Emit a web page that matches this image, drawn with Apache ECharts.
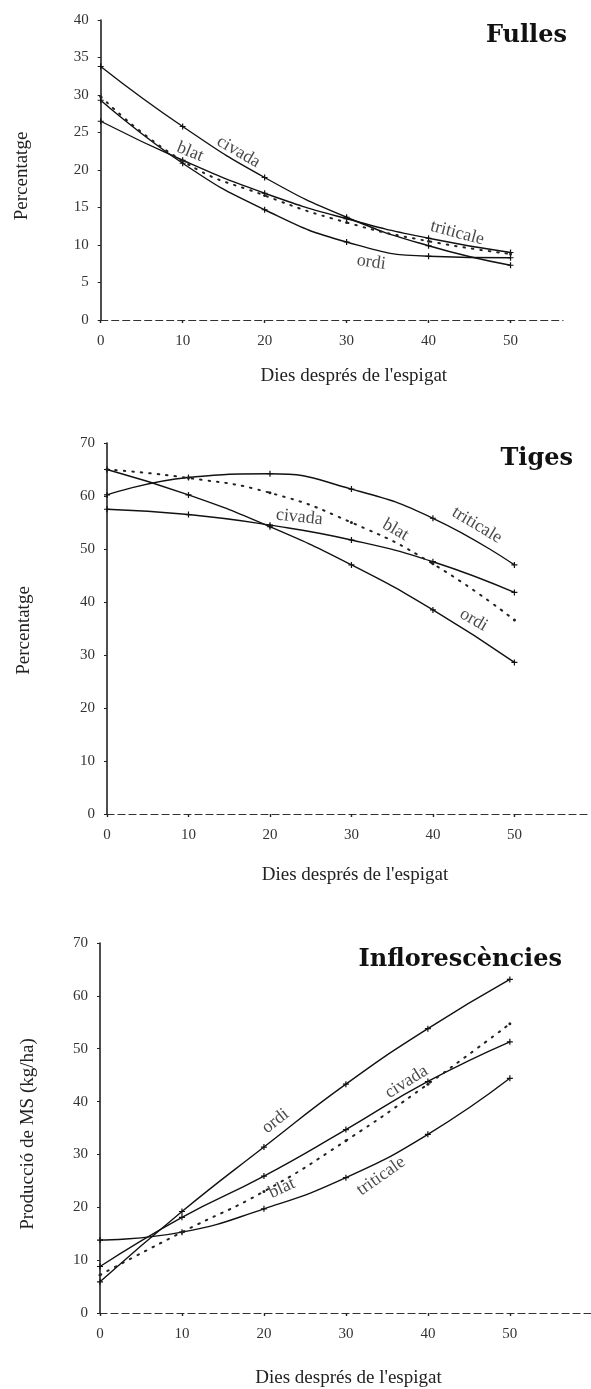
<!DOCTYPE html>
<html>
<head>
<meta charset="utf-8">
<script src="https://cdn.jsdelivr.net/npm/echarts@6/dist/echarts.min.js"></script>
<style>html,body{margin:0;padding:0;background:#fff}#c{width:591px;height:1389px}</style>
</head>
<body>
<div id="c"></div>
<script>
// ---- data ----
const days = [0, 10, 20, 30, 40, 50];
const xTicks = [0, 10, 20, 30, 40, 50];
const fullesTicks = [0, 5, 10, 15, 20, 25, 30, 35, 40];
const pctTicks = [0, 10, 20, 30, 40, 50, 60, 70];

const fullesCivada    = [33.8, 25.8, 19.0, 13.7, 9.9, 7.3];
const fullesOrdi      = [29.3, 20.9, 14.7, 10.4, 8.5, 8.3];
const fullesTriticale = [26.5, 21.3, 16.9, 13.5, 10.9, 9.0];
const fullesBlat      = [29.8, 21.2, 16.6, 13.0, 10.5, 8.8];

const tigesOrdi      = [65.0, 60.2, 54.2, 47.0, 38.5, 28.6];
const tigesTriticale = [60.2, 63.5, 64.2, 61.3, 55.8, 47.0];
const tigesCivada    = [57.5, 56.5, 54.5, 51.7, 47.6, 41.8];
const tigesBlat      = [65.0, 63.4, 60.6, 55.0, 47.2, 36.6];

const inflOrdi      = [5.9, 19.2, 31.4, 43.3, 53.8, 63.1];
const inflCivada    = [8.8, 18.1, 25.9, 34.7, 43.8, 51.3];
const inflTriticale = [13.8, 15.3, 19.7, 25.6, 33.8, 44.4];
const inflBlat      = [7.2, 15.3, 23.0, 32.6, 43.3, 54.7];

const panelTitles = ['Fulles', 'Tiges', 'Inflorescències'];
const yNames = ['Percentatge', 'Percentatge', 'Producció de MS (kg/ha)'];
const xName = 'Dies després de l\'espigat';

// curve labels: [text, day, value, angle]
const fullesNotes = [['civada', 16.8, 22.4, -30], ['blat', 10.9, 22.4, -22], ['triticale', 43.5, 11.6, -15], ['ordi', 33.0, 7.7, -8]];
const tigesNotes  = [['civada', 23.6, 56.0, -6], ['blat', 35.4, 53.6, -30], ['triticale', 45.4, 54.5, -31], ['ordi', 45.0, 36.6, -30]];
const inflNotes   = [['ordi', 21.4, 36.3, 38], ['civada', 37.4, 43.7, 32], ['blat', 22.2, 23.6, 25], ['triticale', 34.3, 25.9, 35]];

// ---- chart ----
const SERIF = '"Liberation Serif", "Times New Roman", serif';
const pair = v => days.map((d, i) => [d, v[i]]);
const plus = 'path://M4,0H6V4H10V6H6V10H4V6H0V4H4Z';

function solid(data, gi) {
  return {
    type: 'line', xAxisIndex: gi, yAxisIndex: gi, data: pair(data),
    smooth: 0.5,
    symbol: plus, symbolSize: 6, showSymbol: true,
    lineStyle: { color: '#111', width: 1.4 }, itemStyle: { color: '#111' },
    silent: true, z: 3
  };
}
function dotted(data, gi) {
  return {
    type: 'line', xAxisIndex: gi, yAxisIndex: gi, data: pair(data),
    smooth: 0.5,
    symbol: 'circle', symbolSize: 3, showSymbol: true,
    lineStyle: { color: '#222', width: 2, type: [1.5, 7], cap: 'round' }, itemStyle: { color: '#222' },
    silent: true, z: 3
  };
}
function notes(list, gi) {
  return {
    type: 'scatter', xAxisIndex: gi, yAxisIndex: gi, symbolSize: 0, silent: true, z: 5,
    data: list.map(n => ({ value: [n[1], n[2]], label: { formatter: n[0], rotate: n[3] } })),
    label: { show: true, position: 'inside', fontFamily: SERIF, fontSize: 18, color: '#1a1a1a' }
  };
}

const grids = [
  { left: 100.7, top: 20, width: 462.3, height: 300 },
  { left: 107, top: 443, width: 484, height: 371 },
  { left: 100, top: 943, width: 491, height: 372 }
];
const xMax = [56.4, 59.4, 59.9];
const yMax = [40, 70, 70];
const yInt = [5, 10, 10];
const yTickLists = [fullesTicks, pctTicks, pctTicks];
const yGaps = [69, 73, 62];
const yPads = [[0, 12, 0, 0], [0, 4, 0, 0], [0, 12, 0, 0]];
const xGaps = [47, 52, 56];
const xPads = [[0, 0, 0, 44], [0, 0, 0, 12], [0, 0, 0, 6]];

const xAxes = grids.map((g, i) => ({
  type: 'value', gridIndex: i, min: 0, max: xMax[i], interval: 10,
  axisLine: { show: true, onZero: false, lineStyle: { color: '#333', width: 1.2, type: [7, 4] } },
  axisTick: { show: true, length: 3, customValues: xTicks, lineStyle: { color: '#222', width: 1.4 } },
  axisLabel: { customValues: xTicks, margin: 14, fontFamily: SERIF, fontSize: 15, color: '#333' },
  splitLine: { show: false },
  name: xName, nameLocation: 'middle', nameGap: xGaps[i],
  nameTextStyle: { fontFamily: SERIF, fontSize: 19, color: '#222', padding: xPads[i] }
}));
const yAxes = grids.map((g, i) => ({
  type: 'value', gridIndex: i, min: 0, max: yMax[i], interval: yInt[i],
  axisLine: { show: true, onZero: false, lineStyle: { color: '#222', width: 1.6 } },
  axisTick: { show: true, length: 3, customValues: yTickLists[i], lineStyle: { color: '#222' } },
  axisLabel: { customValues: yTickLists[i], margin: 12, fontFamily: SERIF, fontSize: 15, color: '#333' },
  splitLine: { show: false },
  name: yNames[i], nameLocation: 'middle', nameGap: yGaps[i], nameRotate: 90,
  nameTextStyle: { fontFamily: SERIF, fontSize: 19, color: '#222', padding: yPads[i] }
}));

const titleTops = [24, 447, 948];
const titleRights = [24, 18, 29];

const option = {
  animation: false,
  backgroundColor: '#fff',
  title: panelTitles.map((t, i) => ({
    text: t, right: titleRights[i], top: titleTops[i], padding: 0,
    textStyle: { fontFamily: '"DejaVu Serif", serif', fontWeight: 'bold', fontSize: 24, color: '#111' }
  })),
  grid: grids,
  xAxis: xAxes,
  yAxis: yAxes,
  series: [
    solid(fullesCivada, 0), solid(fullesOrdi, 0), solid(fullesTriticale, 0), dotted(fullesBlat, 0), notes(fullesNotes, 0),
    solid(tigesOrdi, 1), solid(tigesTriticale, 1), solid(tigesCivada, 1), dotted(tigesBlat, 1), notes(tigesNotes, 1),
    solid(inflOrdi, 2), solid(inflCivada, 2), solid(inflTriticale, 2), dotted(inflBlat, 2), notes(inflNotes, 2)
  ]
};
echarts.init(document.getElementById('c'), null, { renderer: 'canvas' }).setOption(option);
</script>
</body>
</html>
